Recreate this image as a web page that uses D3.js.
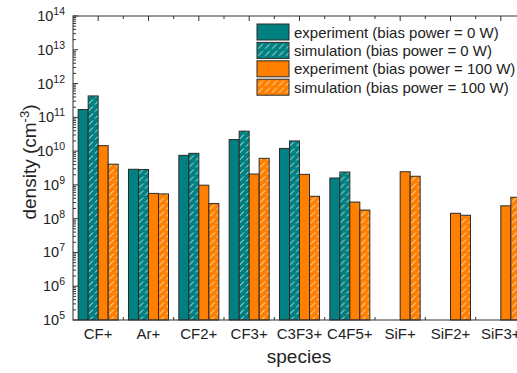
<!DOCTYPE html>
<html>
<head>
<meta charset="utf-8">
<script src="https://cdn.jsdelivr.net/npm/d3@7"></script>
<style>
  html, body { margin: 0; padding: 0; background: #fff; }
  svg { display: block; font-family: "Liberation Sans", Arial, sans-serif; }
</style>
</head>
<body>
<svg id="chart" width="517" height="373"></svg>
<script>
// Ion species and measured / simulated densities (cm^-3); null = not available
const species = ["CF+", "Ar+", "CF2+", "CF3+", "C3F3+", "C4F5+", "SiF+", "SiF2+", "SiF3+"];
const seriesKeys = ["exp0", "sim0", "exp100", "sim100"];
const seriesLabels = [
  "experiment (bias power = 0 W)",
  "simulation (bias power = 0 W)",
  "experiment (bias power = 100 W)",
  "simulation (bias power = 100 W)"
];
const exp0   = [1.7e11, 2.9e9, 7.5e9, 2.2e10, 1.2e10, 1.6e9, null, null, null];
const sim0   = [4.3e11, 2.85e9, 8.6e9, 3.9e10, 2.0e10, 2.4e9, null, null, null];
const exp100 = [1.45e10, 5.6e8, 9.8e8, 2.1e9, 2.05e9, 3.1e8, 2.45e9, 1.44e8, 2.4e8];
const sim100 = [4.1e9, 5.4e8, 2.8e8, 6.1e9, 4.6e8, 1.8e8, 1.8e9, 1.26e8, 4.3e8];
const yDecades = [5, 6, 7, 8, 9, 10, 11, 12, 13, 14];

(function () {
const seriesValues = { exp0, sim0, exp100, sim100 };
const teal = "#008080", orange = "#ff8000";
const fills = { exp0: teal, sim0: teal, exp100: orange, sim100: orange };
const hatched = { exp0: false, sim0: true, exp100: false, sim100: true };

const svg = d3.select("#chart");
const pl = 73, pt = 16, pr = 526, pb = 320;

// Diagonal hatch patterns for the simulation bars
const defs = svg.append("defs");
["teal", "orange"].forEach((name, i) => {
  const p = defs.append("pattern")
    .attr("id", "hatch-" + name)
    .attr("patternUnits", "userSpaceOnUse")
    .attr("width", 7).attr("height", 7);
  p.append("rect").attr("width", 7).attr("height", 7).attr("fill", i === 0 ? teal : orange);
  p.append("line")
    .attr("x1", 1).attr("y1", 6.5).attr("x2", 6).attr("y2", 1.5)
    .attr("stroke", "#fff").attr("stroke-opacity", 0.85).attr("stroke-width", 1);
});
const fillOf = k => hatched[k]
  ? (fills[k] === teal ? "url(#hatch-teal)" : "url(#hatch-orange)")
  : fills[k];

const x = d3.scaleBand().domain(species).range([pl, pr]).padding(0);
const bw = x.bandwidth();
const barW = 10;
const xs = d3.scaleBand().domain(seriesKeys)
  .range([(bw - 4 * barW) / 2, (bw + 4 * barW) / 2]);

const y = d3.scaleLog().domain([1e5, 1e14]).range([pb, pt]);

// Category ticks: majors at group centres, minors at group boundaries
const centers = species.map(s => x(s) + bw / 2);
const bounds = species.slice(1).map(s => x(s));
const tickG = svg.append("g").attr("stroke", "#333");
tickG.selectAll("line.tc").data(centers).join("line")
  .attr("x1", d => d).attr("x2", d => d).attr("y1", pt).attr("y2", pt + 5);
tickG.selectAll("line.tb").data(bounds).join("line")
  .attr("x1", d => d).attr("x2", d => d).attr("y1", pt).attr("y2", pt + 3);
tickG.selectAll("line.bb").data(bounds).join("line")
  .attr("x1", d => d).attr("x2", d => d).attr("y1", pb).attr("y2", pb - 3);

// Bars
const groups = svg.append("g").selectAll("g")
  .data(species)
  .join("g")
  .attr("transform", d => `translate(${x(d)},0)`);

groups.selectAll("rect")
  .data((d, i) => seriesKeys.map(k => ({ key: k, value: seriesValues[k][i] }))
    .filter(e => e.value != null))
  .join("rect")
  .attr("x", d => xs(d.key))
  .attr("width", xs.bandwidth())
  .attr("y", d => y(d.value))
  .attr("height", d => pb - y(d.value))
  .attr("fill", d => fillOf(d.key))
  .attr("stroke", "#2a2a2a")
  .attr("stroke-width", 1);

// Frame
svg.append("rect")
  .attr("x", pl).attr("y", pt)
  .attr("width", pr - pl).attr("height", pb - pt)
  .attr("fill", "none").attr("stroke", "#333").attr("stroke-width", 1);

// Left axis: inward ticks, log minor ticks
const yMajor = yDecades.map(e => Math.pow(10, e));
const yMinor = [];
yDecades.slice(0, -1).forEach(e => {
  for (let m = 2; m <= 9; m++) yMinor.push(m * Math.pow(10, e));
});
const yAxis = svg.append("g").attr("transform", `translate(${pl},0)`);
yAxis.selectAll("line.maj").data(yMajor).join("line")
  .attr("x1", 0).attr("x2", 5)
  .attr("y1", d => y(d)).attr("y2", d => y(d))
  .attr("stroke", "#333");
yAxis.selectAll("line.min").data(yMinor).join("line")
  .attr("x1", 0).attr("x2", 3)
  .attr("y1", d => y(d)).attr("y2", d => y(d))
  .attr("stroke", "#333");
const yLab = yAxis.selectAll("text").data(yDecades).join("text")
  .attr("x", -8)
  .attr("y", d => y(Math.pow(10, d)) + 5)
  .attr("text-anchor", "end")
  .attr("font-size", 14.5)
  .attr("fill", "#222");
yLab.append("tspan").text("10");
yLab.append("tspan").attr("dy", -6).attr("font-size", 10.5).text(d => d);

// Category labels
svg.append("g").selectAll("text").data(species).join("text")
  .attr("x", d => x(d) + bw / 2)
  .attr("y", 339)
  .attr("text-anchor", "middle")
  .attr("font-size", 15)
  .attr("fill", "#222")
  .text(d => d);

// Axis titles
svg.append("text")
  .attr("x", 299).attr("y", 363)
  .attr("text-anchor", "middle")
  .attr("font-size", 19)
  .attr("fill", "#222")
  .text("species");

const yt = svg.append("text")
  .attr("transform", "translate(36,162) rotate(-90)")
  .attr("text-anchor", "middle")
  .attr("font-size", 19)
  .attr("fill", "#222");
yt.append("tspan").text("density (cm");
yt.append("tspan").attr("dy", -7).attr("font-size", 13).text("-3");
yt.append("tspan").attr("dy", 7).text(")");

// Legend
const legend = svg.append("g").attr("transform", "translate(257,24)");
const items = legend.selectAll("g").data(seriesKeys).join("g")
  .attr("transform", (d, i) => `translate(0,${i * 18.4})`);
items.append("rect")
  .attr("width", 32).attr("height", 16)
  .attr("fill", d => fillOf(d))
  .attr("stroke", "#2a2a2a");
items.append("text")
  .attr("x", 37).attr("y", 13.5)
  .attr("font-size", 15)
  .attr("fill", "#222")
  .text((d, i) => seriesLabels[i]);
})();
</script>
</body>
</html>
